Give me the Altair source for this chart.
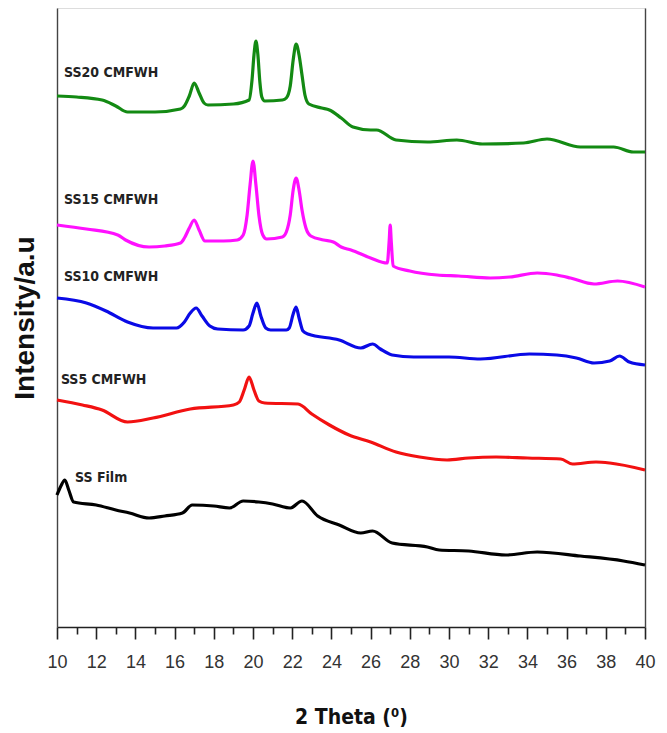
import altair as alt
import pandas as pd

# ---- data (2 theta in degrees, intensity in arbitrary units) ----
ss20_theta = [10.0, 11.0, 12.3, 13.0, 13.6, 15.0, 16.3, 16.5, 16.75, 17.0, 17.25, 17.5, 17.7, 19.0, 19.8,
              19.95, 20.05, 20.15, 20.25, 20.35, 20.45, 20.6, 21.5, 21.7, 21.9, 22.05, 22.2, 22.35, 22.5,
              22.65, 22.85, 23.5, 23.9, 24.5, 25.1, 26.0, 26.3, 27.3, 28.9, 30.4, 31.7, 33.8, 35.0, 36.7,
              38.4, 39.4, 40.0]
ss20_int = [531, 530, 527, 521, 515, 515, 518, 521, 531, 544, 534, 524, 522, 523, 527,
            547, 572, 586, 572, 545, 530, 526, 527, 529, 541, 567, 583, 572, 552,
            532, 523, 519, 517, 509, 500, 497, 497, 487, 485, 487, 483, 484, 488, 480,
            480, 475, 475]

ss15_theta = [10.0, 11.5, 13.1, 13.5, 14.7, 15.5, 16.3, 16.5, 16.75, 17.0, 17.25, 17.55, 18.5, 19.2, 19.5,
              19.7, 19.85, 20.0, 20.15, 20.3, 20.5, 20.7, 21.5, 21.7, 21.9, 22.05, 22.2, 22.35, 22.5,
              22.7, 22.95, 23.6, 24.1, 24.5, 25.0, 26.0, 26.85, 26.95, 27.0, 27.05, 27.15, 28.0, 29.4,
              30.5, 32.1, 33.1, 34.5, 35.5, 36.2, 37.4, 38.6, 40.0]
ss15_int = [402, 398, 392, 387, 380, 381, 384, 389, 399, 407, 397, 386, 386, 387, 392,
            412, 442, 466, 442, 412, 392, 388, 390, 395, 412, 437, 449, 437, 417,
            399, 391, 387, 385, 380, 377, 369, 364, 387, 402, 387, 361, 356, 352,
            351, 349, 350, 354, 352, 349, 343, 346, 340]

ss10_theta = [10.0, 11.5, 12.5, 13.6, 14.9, 16.1, 16.5, 16.8, 17.1, 17.4, 17.8, 18.2, 19.5, 19.8, 20.0,
              20.2, 20.4, 20.65, 20.9, 21.7, 21.85, 22.05, 22.2, 22.35, 22.55, 22.8, 24.4, 25.5, 26.1,
              26.5, 27.1, 28.2, 30.0, 31.6, 34.1, 35.5, 36.5, 37.4, 38.2, 38.7, 39.2, 40.0]
ss10_int = [329, 324, 316, 305, 299, 299, 305, 314, 319, 311, 301, 298, 297, 301, 314,
            324, 311, 299, 297, 297, 299, 313, 320, 309, 296, 293, 287, 279, 283,
            278, 272, 270, 270, 268, 273, 272, 269, 264, 266, 271, 265, 262]

ss5_theta = [10.0, 11.3, 12.3, 13.6, 14.9, 16.8, 19.0, 19.3, 19.55, 19.8, 20.05, 20.3, 20.6, 22.3, 23.0,
             23.9, 24.9, 26.0, 27.3, 28.5, 29.9, 31.0, 32.4, 34.0, 35.7, 36.3, 37.5, 38.2, 40.0]
ss5_int = [227, 222, 217, 205, 209, 218, 222, 225, 237, 250, 237, 226, 224, 223, 213,
           202, 192, 185, 175, 170, 167, 169, 170, 169, 168, 163, 165, 164, 157]

film_theta = [10.0, 10.2, 10.4, 10.6, 10.85, 12.0, 13.0, 13.7, 14.7, 15.5, 16.4, 16.9, 18.0, 18.8, 19.5,
              20.3, 21.0, 21.9, 22.5, 23.3, 24.4, 25.5, 26.1, 27.1, 28.9, 29.5, 31.0, 32.9, 34.5, 36.7,
              38.9, 40.0]
film_int = [132, 141, 147, 137, 125, 122, 117, 114, 109, 111, 114, 122, 121, 119, 126,
            125, 123, 119, 126, 111, 102, 94, 96, 84, 80, 77, 76, 72, 75, 71,
            66, 62]

series_names = ["SS20 CMFWH", "SS15 CMFWH", "SS10 CMFWH", "SS5 CMFWH", "SS Film"]
series_colors = ["#138a13", "#ff10ff", "#0a0ae6", "#f21111", "#000000"]
label_theta = [10.36, 10.36, 10.36, 10.2, 10.92]
label_int = [554, 427, 350, 247, 149]

major_ticks = list(range(10, 41, 2))
minor_ticks = list(range(11, 40, 2))

# ---- build table ----
rows = []
for name, th, it in zip(series_names,
                        [ss20_theta, ss15_theta, ss10_theta, ss5_theta, film_theta],
                        [ss20_int, ss15_int, ss10_int, ss5_int, film_int]):
    for i, (t, v) in enumerate(zip(th, it)):
        rows.append({"series": name, "theta": t, "intensity": v, "order": i})
df = pd.DataFrame(rows)
labels = pd.DataFrame({"series": series_names, "theta": label_theta, "intensity": label_int})

LABEL_FONT = "DejaVu Sans Condensed, DejaVu Sans, sans-serif"
AXIS_FONT = "Liberation Sans, Arial, sans-serif"

x_scale = alt.Scale(domain=[10, 40], nice=False, zero=False)
y_scale = alt.Scale(domain=[0, 619], nice=False, zero=False)
color_scale = alt.Scale(domain=series_names, range=series_colors)

lines = alt.Chart(df).mark_line(strokeWidth=3.2, strokeJoin="round", interpolate="monotone").encode(
    x=alt.X("theta:Q", scale=x_scale,
            axis=alt.Axis(values=major_ticks, title="2 Theta (⁰)", orient="bottom",
                          tickSize=12, labelOverlap=False, labelFlush=False, labelBound=False,
                          labelPadding=14, labelFontSize=18,
                          labelFont=AXIS_FONT, labelColor="#333333",
                          tickColor="#222222", tickWidth=1.6,
                          domainColor="#222222", domainWidth=1.6,
                          titleFont=LABEL_FONT, titleFontSize=21, titleFontWeight="bold",
                          titleColor="#111111", titlePadding=35, grid=False)),
    y=alt.Y("intensity:Q", scale=y_scale,
            axis=alt.Axis(title="Intensity/a.u", labels=False, ticks=False, grid=False,
                          domainColor="#444444", domainWidth=1.4,
                          titleFont=AXIS_FONT, titleFontSize=28,
                          titleFontWeight="bold", titleColor="#111111", titlePadding=18)),
    color=alt.Color("series:N", scale=color_scale, legend=None),
    order="order:Q",
)

texts = alt.Chart(labels).mark_text(
    align="left", baseline="middle", font=LABEL_FONT, fontSize=14, fontWeight="bold", color="#222222"
).encode(
    x=alt.X("theta:Q", scale=x_scale,
            axis=alt.Axis(values=minor_ticks, orient="bottom", title=None, labels=False,
                          domain=False, tickSize=7, tickColor="#222222", tickWidth=1.6, grid=False)),
    y=alt.Y("intensity:Q", scale=y_scale,
            axis=alt.Axis(orient="right", title=None, labels=False, ticks=False, grid=False,
                          domainColor="#444444", domainWidth=1.4)),
    text="series:N",
)

chart = alt.layer(lines, texts).resolve_axis(x="independent", y="independent").properties(
    width=588, height=619,
    autosize=alt.AutoSizeParams(type="none"),
    padding={"left": 49, "top": 0, "right": 14, "bottom": 106},
).configure_view(stroke=None).configure(background="white")

chart.save("out.html", embed_options={"renderer": "svg", "actions": False})
